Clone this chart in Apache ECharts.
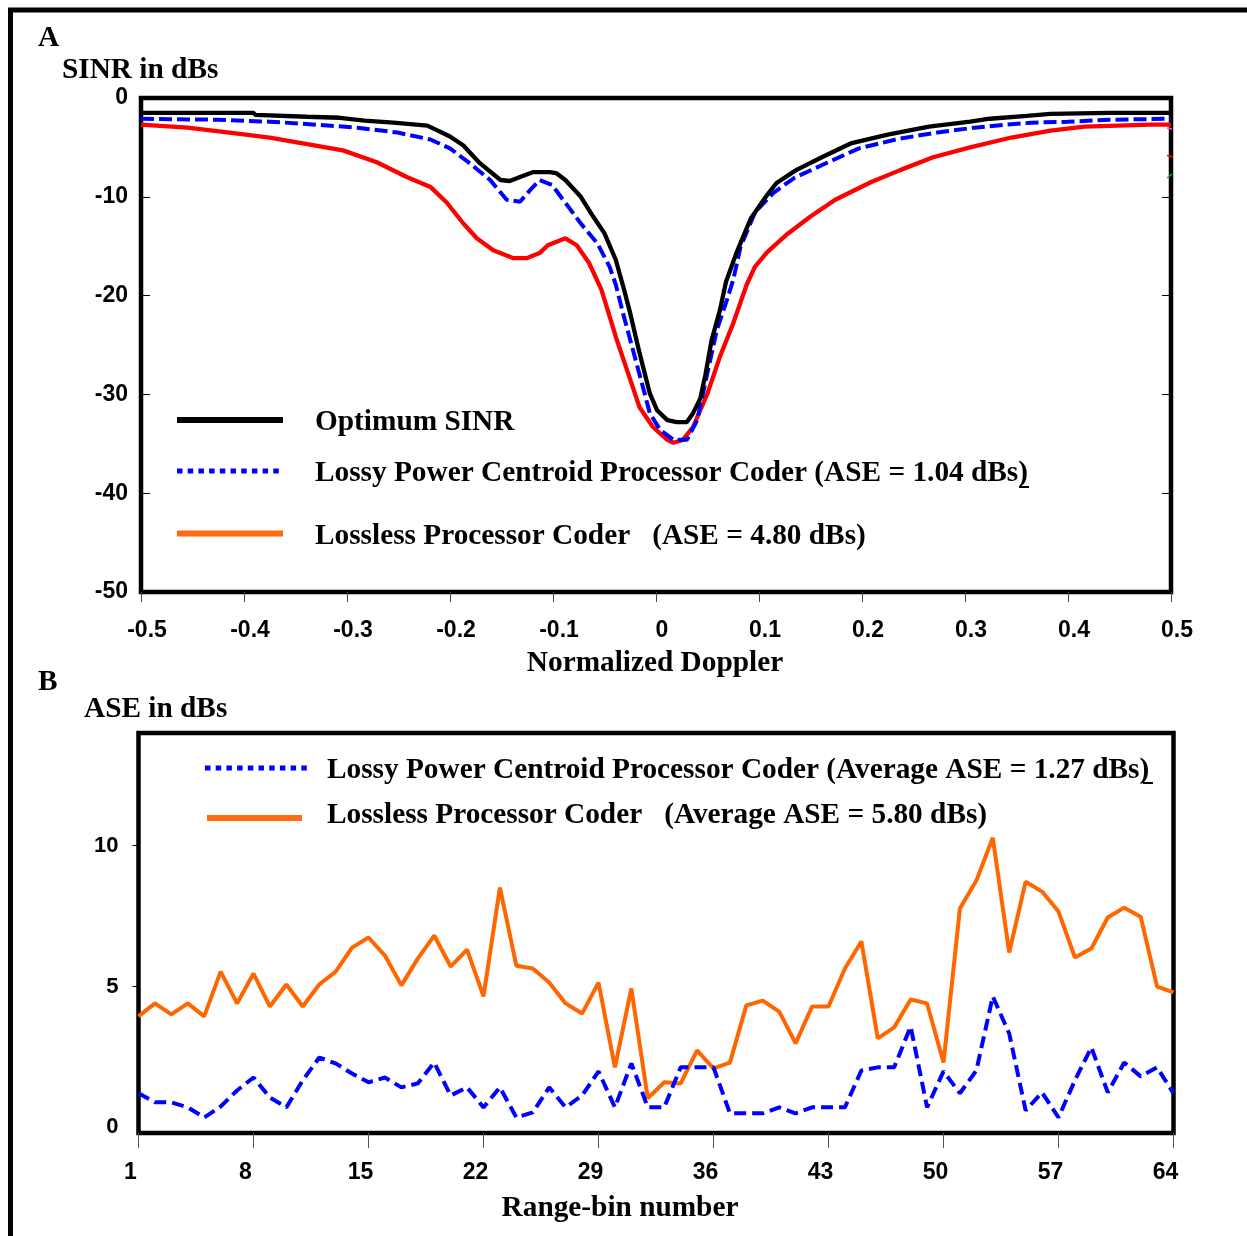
<!DOCTYPE html>
<html><head><meta charset="utf-8">
<script src="https://cdn.jsdelivr.net/npm/echarts@6/dist/echarts.min.js"></script>
<style>html,body{margin:0;padding:0;background:#fff}#c{width:1247px;height:1236px}</style>
</head><body><div id="c"></div>
<script>
// ---------- Panel A : SINR vs normalized Doppler ----------
const optimumDoppler = [-0.5,-0.391,-0.389,-0.339,-0.307,-0.283,-0.255,-0.222,-0.2,-0.187,-0.171,-0.151,-0.142,-0.132,-0.119,-0.103,-0.097,-0.088,-0.073,-0.061,-0.05,-0.039,-0.031,-0.025,-0.016,-0.006,0.001,0.011,0.02,0.03,0.036,0.043,0.048,0.054,0.062,0.068,0.078,0.092,0.108,0.117,0.136,0.161,0.189,0.225,0.265,0.305,0.324,0.36,0.383,0.44,0.5];
const optimumSinr = [-1.5,-1.5,-1.7,-1.9,-2.0,-2.3,-2.5,-2.8,-3.9,-4.8,-6.6,-8.3,-8.4,-8.0,-7.5,-7.5,-7.6,-8.3,-10.0,-12.0,-13.7,-16.4,-19.4,-21.8,-25.8,-29.9,-31.6,-32.6,-32.8,-32.8,-31.9,-30.4,-28.0,-24.5,-21.5,-18.6,-15.7,-12.2,-9.8,-8.6,-7.3,-6.0,-4.6,-3.7,-2.9,-2.4,-2.1,-1.8,-1.6,-1.5,-1.5];

const lossyDoppler = [-0.5,-0.426,-0.375,-0.343,-0.29,-0.251,-0.219,-0.2,-0.181,-0.161,-0.145,-0.132,-0.122,-0.113,-0.101,-0.088,-0.073,-0.057,-0.045,-0.039,-0.032,-0.018,-0.006,0.004,0.017,0.03,0.04,0.05,0.059,0.069,0.075,0.082,0.096,0.114,0.134,0.165,0.197,0.237,0.273,0.309,0.34,0.364,0.4,0.44,0.5];
const lossySinr = [-2.1,-2.2,-2.4,-2.6,-3.0,-3.5,-4.2,-5.1,-6.6,-8.3,-10.3,-10.5,-9.3,-8.3,-8.8,-10.6,-12.7,-14.7,-17.1,-18.9,-21.8,-27.2,-31.9,-33.6,-34.6,-34.6,-32.6,-27.8,-23.5,-20.4,-18.4,-15.1,-11.6,-9.6,-8.1,-6.6,-5.1,-4.1,-3.5,-3.0,-2.7,-2.5,-2.4,-2.2,-2.1];

const losslessDoppler = [-0.5,-0.455,-0.414,-0.375,-0.343,-0.304,-0.271,-0.242,-0.219,-0.203,-0.187,-0.174,-0.158,-0.139,-0.125,-0.113,-0.105,-0.088,-0.077,-0.065,-0.053,-0.038,-0.025,-0.016,-0.003,0.011,0.017,0.026,0.036,0.05,0.062,0.075,0.088,0.096,0.108,0.126,0.15,0.174,0.209,0.237,0.269,0.305,0.345,0.383,0.416,0.48,0.5];
const losslessSinr = [-2.7,-3.0,-3.5,-4.0,-4.6,-5.3,-6.5,-8.0,-9.0,-10.6,-12.7,-14.2,-15.4,-16.2,-16.2,-15.7,-14.9,-14.2,-14.9,-16.7,-19.4,-24.5,-28.5,-31.3,-33.3,-34.6,-34.9,-34.6,-33.3,-29.9,-26.2,-22.8,-18.9,-17.1,-15.6,-13.9,-12.0,-10.3,-8.5,-7.3,-6.0,-5.0,-4.0,-3.3,-2.9,-2.7,-2.7];

// ---------- Panel B : ASE vs range bin ----------
const rangeBins = [1,2,3,4,5,6,7,8,9,10,11,12,13,14,15,16,17,18,19,20,21,22,23,24,25,26,27,28,29,30,31,32,33,34,35,36,37,38,39,40,41,42,43,44,45,46,47,48,49,50,51,52,53,54,55,56,57,58,59,60,61,62,63,64];
const lossyAse = [1.21,0.89,0.89,0.71,0.35,0.74,1.31,1.77,1.06,0.71,1.67,2.48,2.27,1.91,1.60,1.77,1.42,1.56,2.30,1.13,1.42,0.71,1.42,0.35,0.53,1.42,0.71,1.13,1.99,0.71,2.27,0.71,0.71,2.13,2.13,2.13,0.50,0.50,0.50,0.71,0.50,0.71,0.71,0.71,2.02,2.13,2.13,3.58,0.71,1.99,1.21,2.02,4.65,3.33,0.60,1.24,0.35,1.67,2.84,1.24,2.30,1.81,2.13,1.21];
const losslessAse = [3.94,4.40,4.01,4.40,3.94,5.53,4.40,5.46,4.29,5.07,4.29,5.07,5.53,6.38,6.74,6.10,5.04,5.99,6.81,5.71,6.31,4.65,8.51,5.74,5.64,5.14,4.40,4.04,5.14,2.13,4.93,1.03,1.60,1.56,2.73,2.09,2.30,4.33,4.50,4.11,2.98,4.29,4.29,5.64,6.60,3.16,3.55,4.54,4.40,2.30,7.77,8.76,10.28,6.21,8.72,8.37,7.66,6.03,6.35,7.45,7.80,7.48,5.00,4.79];

const dopplerTicks = [-0.5,-0.4,-0.3,-0.2,-0.1,0,0.1,0.2,0.3,0.4,0.5];
const sinrTicks = [0,-10,-20,-30,-40,-50];
const binTicks = [1,8,15,22,29,36,43,50,57,64];
const aseTicks = [0,5,10];

const zip = (a, b) => a.map((v, i) => [v, b[i]]);

const SERIF = 'bold 29.3px "Liberation Serif", "Times New Roman", serif';
const SANS = '"Liberation Sans", Arial, sans-serif';
const tickLabel = {fontFamily: SANS, fontWeight: 'bold', fontSize: 23, color: '#000'};

function txt(x, y, s, align) {
  return {type: 'text', x: x, y: y, silent: true, z: 10,
    style: {text: s, font: SERIF, fill: '#000', align: align || 'left', verticalAlign: 'middle'}};
}
function seg(x1, y1, x2, y2, color, w, dash) {
  return {type: 'line', silent: true, z: 10, shape: {x1, y1, x2, y2},
    style: {stroke: color, lineWidth: w, lineDash: dash || null}};
}

const chart = echarts.init(document.getElementById('c'), null, {renderer: 'canvas'});
chart.setOption({
  animation: false,
  backgroundColor: '#fff',
  grid: [
    {left: 141, top: 98, width: 1030, height: 494, show: true, borderWidth: 4.5, borderColor: '#000', backgroundColor: 'transparent'},
    {left: 138.5, top: 733, width: 1035, height: 400, show: true, borderWidth: 4.5, borderColor: '#000', backgroundColor: 'transparent'}
  ],
  xAxis: [
    {gridIndex: 0, type: 'value', min: -0.5, max: 0.5, position: 'bottom',
      axisLine: {show: false, onZero: false}, splitLine: {show: false},
      axisTick: {show: true, customValues: dopplerTicks, inside: false, length: 10, lineStyle: {color: '#444', width: 1}},
      axisLabel: Object.assign({customValues: dopplerTicks, margin: 27, padding: [0, 0, 0, 12]}, tickLabel)},
    {gridIndex: 1, type: 'value', min: 1, max: 64, position: 'bottom',
      axisLine: {show: false, onZero: false}, splitLine: {show: false},
      axisTick: {show: true, customValues: binTicks, inside: false, length: 15, lineStyle: {color: '#555', width: 1}},
      axisLabel: Object.assign({customValues: binTicks, margin: 28, padding: [0, 16, 0, 0]}, tickLabel)}
  ],
  yAxis: [
    {gridIndex: 0, type: 'value', min: -50, max: 0, position: 'left',
      axisLine: {show: false, onZero: false}, splitLine: {show: false},
      axisTick: {show: true, customValues: sinrTicks, inside: true, length: 9, lineStyle: {color: '#000', width: 1}},
      axisLabel: Object.assign({customValues: sinrTicks, margin: 13}, tickLabel)},
    {gridIndex: 0, type: 'value', position: 'right', min: -50, max: 0,
      axisLine: {show: false, onZero: false}, splitLine: {show: false},
      axisTick: {show: true, customValues: sinrTicks, inside: true, length: 9, lineStyle: {color: '#000', width: 1}},
      axisLabel: {show: false}},
    {gridIndex: 1, type: 'value', min: -0.2, max: 14, position: 'left',
      axisLine: {show: false, onZero: false}, splitLine: {show: false},
      axisTick: {show: true, customValues: [5, 10], inside: false, length: 6, lineStyle: {color: '#000', width: 1}},
      axisLabel: Object.assign({customValues: aseTicks, margin: 20}, tickLabel, {fontSize: 22})}
  ],
  series: [
    {name: 'Lossless', type: 'line', xAxisIndex: 0, yAxisIndex: 0, symbol: 'none', silent: true,
      data: zip(losslessDoppler, losslessSinr), lineStyle: {color: '#ff0000', width: 4.3}},
    {name: 'Lossy', type: 'line', xAxisIndex: 0, yAxisIndex: 0, symbol: 'none', silent: true,
      data: zip(lossyDoppler, lossySinr), lineStyle: {color: '#0000ff', width: 4, type: [13, 5]}},
    {name: 'Optimum', type: 'line', xAxisIndex: 0, yAxisIndex: 0, symbol: 'none', silent: true,
      data: zip(optimumDoppler, optimumSinr), lineStyle: {color: '#000000', width: 4.3}},
    {name: 'LosslessASE', type: 'line', xAxisIndex: 1, yAxisIndex: 2, symbol: 'none', silent: true,
      data: zip(rangeBins, losslessAse), lineStyle: {color: '#ff6600', width: 4}},
    {name: 'LossyASE', type: 'line', xAxisIndex: 1, yAxisIndex: 2, symbol: 'none', silent: true,
      data: zip(rangeBins, lossyAse), lineStyle: {color: '#0000ff', width: 4, type: [12, 6]}}
  ],
  graphic: [
    {type: 'rect', silent: true, z: 1, shape: {x: 10.5, y: 10, width: 1400, height: 1400},
      style: {fill: 'none', stroke: '#000', lineWidth: 5}},
    txt(38, 38, 'A'),
    txt(62, 70, 'SINR in dBs'),
    txt(655, 663, 'Normalized Doppler', 'center'),
    txt(38, 682, 'B'),
    txt(84, 709, 'ASE in dBs'),
    txt(620, 1208, 'Range-bin number', 'center'),
    // legend A
    seg(177, 420, 283, 420, '#000', 6),
    txt(315, 422, 'Optimum SINR'),
    seg(177, 471, 280, 471, '#0000ff', 5, [5.5, 5.2]),
    txt(315, 473, 'Lossy Power Centroid Processor Coder (ASE = 1.04 dBs)'),
    seg(1019, 487, 1029, 487, '#000', 2),
    seg(177, 533.5, 283, 533.5, '#ff6a13', 6),
    txt(315, 536, 'Lossless Processor Coder   (ASE = 4.80 dBs)'),
    // legend B
    seg(205, 768, 308, 768, '#0000ff', 5, [5.5, 5.2]),
    txt(327, 770, 'Lossy Power Centroid Processor Coder (Average ASE = 1.27 dBs)'),
    seg(1143, 783, 1153, 783, '#000', 2),
    seg(207, 818, 302, 818, '#ff6a13', 6),
    txt(327, 815, 'Lossless Processor Coder   (Average ASE = 5.80 dBs)'),
    // small colour marks at the right edge of panel A
    seg(1167, 128, 1172, 129, '#ff33ff', 1.5),
    seg(1167, 155.5, 1173, 157, '#ff0000', 1.5),
    seg(1167, 178, 1172, 174, '#00cc00', 1.5)
  ]
});
</script></body></html>
